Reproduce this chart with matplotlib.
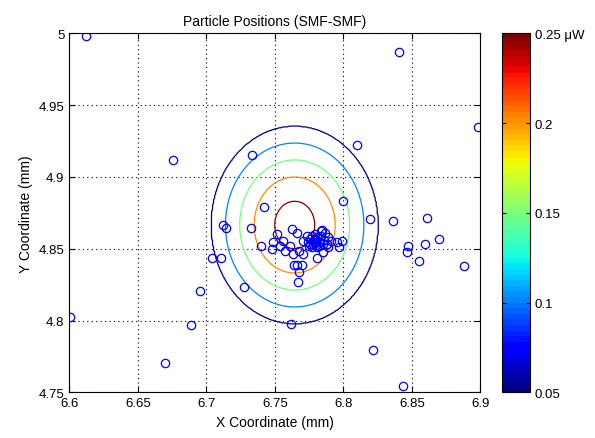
import numpy as np
import matplotlib
matplotlib.use("Agg")
import matplotlib.pyplot as plt
from matplotlib.ticker import FormatStrFormatter

plt.rcParams['font.family'] = ['Liberation Sans', 'DejaVu Sans']

# particle positions (mm)
px = [6.612, 6.676, 6.7336, 6.841, 6.898, 6.810, 6.7996, 6.742, 6.7124, 6.7144,
      6.7328, 6.7397, 6.704, 6.7105, 6.6954, 6.7275, 6.6005, 6.6888, 6.6699, 6.8195,
      6.836, 6.8613, 6.8696, 6.8594, 6.847, 6.8463, 6.8555, 6.888, 6.7617, 6.8217,
      6.8439,
      6.7477, 6.749, 6.7514, 6.7623, 6.766, 6.7562, 6.7538, 6.761, 6.7574, 6.7673,
      6.7635, 6.764, 6.766, 6.7697, 6.7673, 6.7667, 6.7806, 6.7854, 6.789, 6.7952,
      6.7971, 6.7988, 6.7843, 6.789, 6.7733, 6.7708, 6.7704,
      6.774, 6.776, 6.778, 6.780, 6.782, 6.777, 6.779, 6.781, 6.783, 6.785,
      6.784, 6.786, 6.775, 6.779, 6.781, 6.787, 6.776, 6.780, 6.782, 6.7795,
      6.7835, 6.7775, 6.791, 6.788]
py = [4.998, 4.912, 4.9155, 4.987, 4.935, 4.922, 4.8834, 4.879, 4.8667, 4.8644,
      4.8646, 4.852, 4.8435, 4.8435, 4.8208, 4.8235, 4.8022, 4.797, 4.7704, 4.8707,
      4.8693, 4.8714, 4.8565, 4.853, 4.852, 4.848, 4.8417, 4.838, 4.7976, 4.7797,
      4.7546,
      4.8498, 4.8545, 4.8602, 4.8637, 4.8607, 4.8556, 4.852, 4.852, 4.8486, 4.8486,
      4.8463, 4.8389, 4.8389, 4.8389, 4.834, 4.8266, 4.8433, 4.8475, 4.851, 4.8545,
      4.851, 4.8556, 4.8632, 4.858, 4.859, 4.8556, 4.8463,
      4.855, 4.857, 4.853, 4.856, 4.852, 4.851, 4.860, 4.858, 4.855, 4.853,
      4.859, 4.856, 4.852, 4.854, 4.851, 4.861, 4.8535, 4.8525, 4.8545, 4.8565,
      4.862, 4.8585, 4.8555, 4.8535]

# power contours: level (uW) and measured half width along x (mm)
levels = [0.05, 0.1, 0.15, 0.2, 0.25]
half_widths = [0.0607, 0.0505, 0.0401, 0.0296, 0.0147]
peak_power = 0.27
beam_center = (6.7645, 4.8665)
beam_aspect = 1.13  # height / width of the contours

# field built from the measured contour sizes
gx, gy = np.meshgrid(np.linspace(6.6, 6.9, 400), np.linspace(4.75, 5.0, 400))
rho = np.hypot(gx - beam_center[0], (gy - beam_center[1]) / beam_aspect)
r_pts = [0.0] + half_widths[::-1] + [0.2]
v_pts = [peak_power] + levels[::-1] + [0.0]
power = np.interp(rho, r_pts, v_pts)

cmap = plt.get_cmap('jet', 64)
norm = plt.Normalize(0.05, 0.25)

fig = plt.figure(figsize=(5.95, 4.39), dpi=100)
ax = fig.add_axes([69.3 / 595, 45.7 / 439, 411 / 595, 359 / 439])
cax = fig.add_axes([502 / 595, 45.7 / 439, 28 / 595, 359 / 439])

ax.contour(gx, gy, power, levels=levels, cmap=cmap, norm=norm, linewidths=0.9)
ax.plot(px, py, 'o', ms=6, mfc='none', mec='#0000ff', mew=0.9, ls='none')

ax.set_xlim(6.6, 6.9)
ax.set_ylim(4.75, 5.0)
ax.set_xticks(np.arange(6.6, 6.901, 0.05))
ax.set_yticks(np.arange(4.75, 5.001, 0.05))
ax.xaxis.set_major_formatter(FormatStrFormatter('%g'))
ax.yaxis.set_major_formatter(FormatStrFormatter('%g'))
ax.grid(True, ls=(0, (1, 3)), color='black', lw=0.8)
ax.tick_params(direction='in', top=True, right=True, length=4, labelsize=9.5)
ax.set_xlabel('X Coordinate (mm)', fontsize=10)
ax.set_ylabel('Y Coordinate (mm)', fontsize=10)
ax.set_title('Particle Positions (SMF-SMF)', fontsize=10)

sm = matplotlib.cm.ScalarMappable(norm=norm, cmap=cmap)
cb = fig.colorbar(sm, cax=cax, ticks=levels)
cb.ax.set_yticklabels(['0.05', '0.1', '0.15', '0.2', '0.25 \u03bcW'])
cb.ax.tick_params(direction='in', left=True, right=True, length=3, labelsize=9.5)
cb.outline.set_linewidth(0.8)

fig.savefig('out.png', dpi=100)
